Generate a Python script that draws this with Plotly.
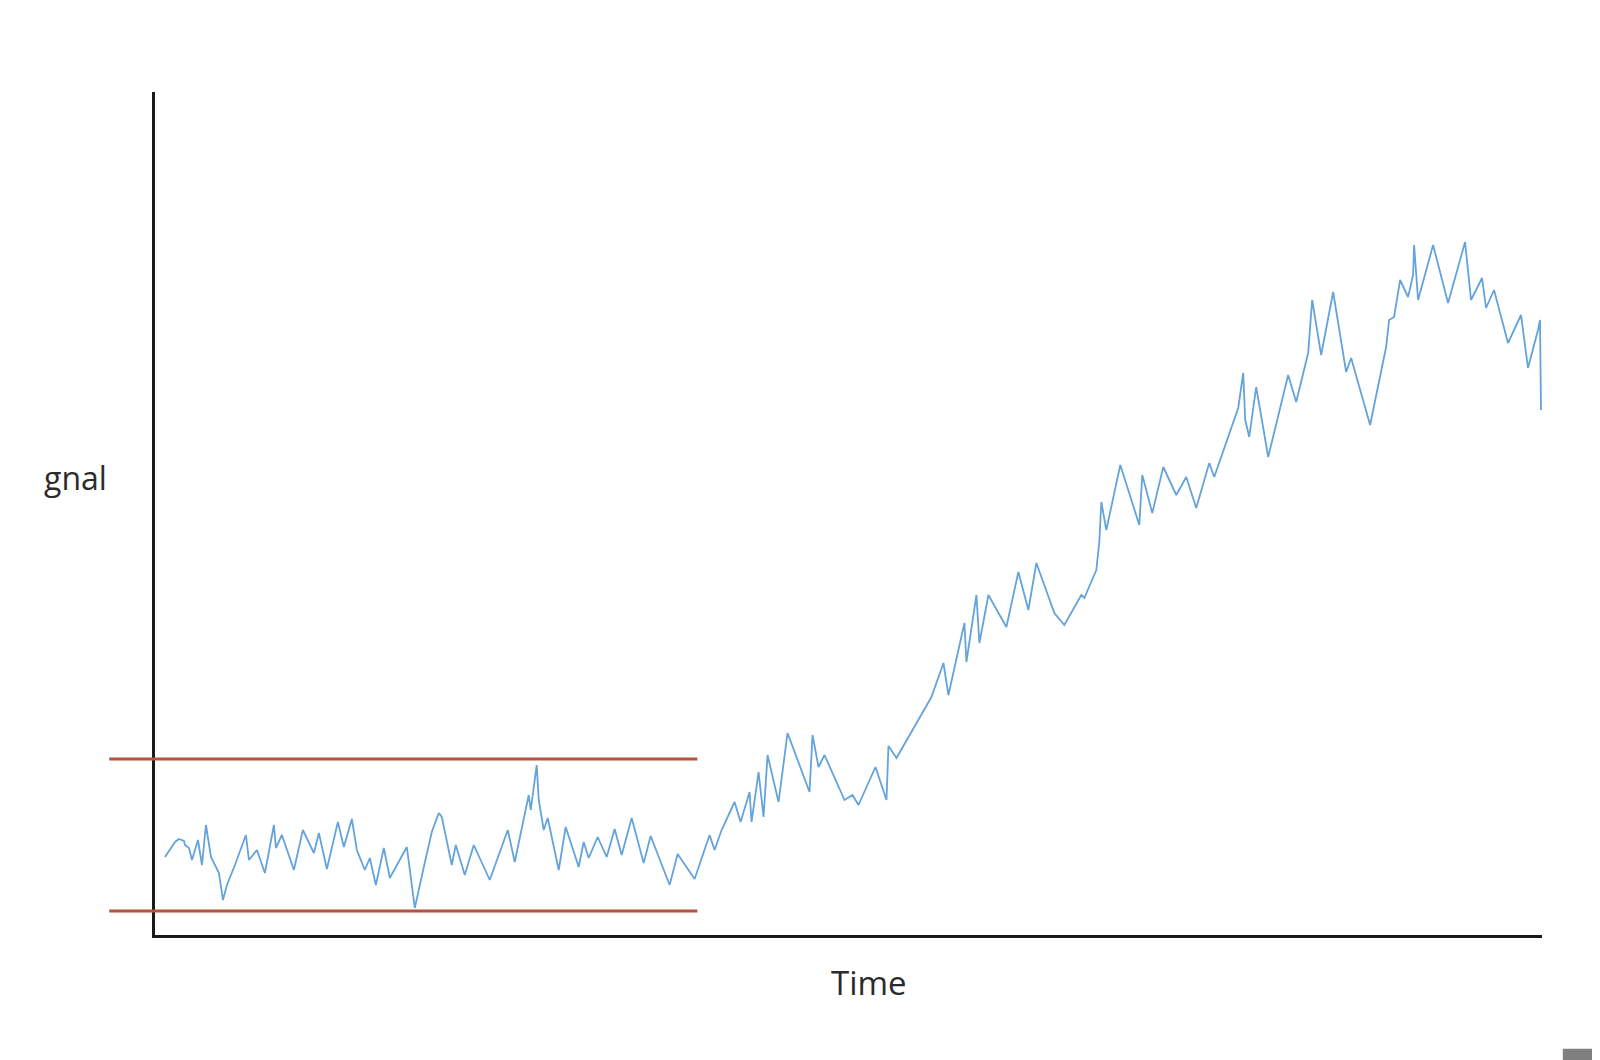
import plotly.graph_objects as go

# signal trace (time in ms, signal in arbitrary units)
time = [10, 20, 24, 29, 30, 34, 37, 43, 47, 51, 56, 60, 64, 68, 72, 80, 87, 91, 94, 102,
        110, 119, 121, 127, 139, 148, 159, 164, 172, 183, 189, 197, 202, 210, 215, 221, 229, 235, 252, 260,
        269, 277, 284, 287, 297, 301, 310, 319, 335, 353, 360, 374, 376, 382, 384, 389, 393, 404, 411, 424,
        429, 434, 443, 452, 460, 467, 477, 489, 496, 515, 523, 540, 555, 560, 567, 580, 586, 595, 597, 604,
        609, 613, 624, 633, 655, 658, 664, 670, 690, 698, 704, 721, 732, 734, 742, 777, 789, 794, 810, 812,
        822, 825, 834, 852, 864, 874, 882, 900, 910, 927, 930, 942, 945, 947, 952, 966, 985, 988, 998, 1009,
        1022, 1032, 1042, 1055, 1060, 1084, 1089, 1091, 1095, 1102, 1114, 1134, 1142, 1154, 1158, 1167, 1179, 1192, 1197, 1216,
        1232, 1235, 1240, 1246, 1254, 1259, 1260, 1264, 1279, 1294, 1311, 1317, 1328, 1332, 1340, 1354, 1367, 1374, 1384, 1386,
        1387]
signal = [7.8, 9.3, 9.6, 9.4, 9.0, 8.7, 7.5, 9.5, 7.0, 11.0, 7.8, 7.0, 6.2, 3.5, 5.0, 7.0, 8.8, 10.0, 7.5, 8.5,
          6.2, 11.0, 8.7, 10.0, 6.5, 10.5, 8.2, 10.2, 6.6, 11.3, 8.8, 11.6, 8.5, 6.5, 7.7, 5.0, 8.7, 5.7, 8.8, 2.7,
          6.8, 10.3, 12.2, 11.8, 7.0, 9.0, 6.0, 9.0, 5.5, 10.5, 7.3, 14.0, 12.5, 17.0, 13.5, 10.5, 11.7, 6.5, 10.8, 6.8,
          9.3, 7.7, 9.8, 7.8, 10.6, 8.0, 11.7, 7.2, 9.9, 5.0, 8.1, 5.6, 10.0, 8.5, 10.5, 13.3, 11.3, 14.3, 11.3, 16.3,
          11.8, 18.0, 13.3, 20.2, 14.3, 20.0, 16.8, 18.0, 13.5, 14.0, 13.0, 16.8, 13.5, 18.9, 17.7, 23.8, 27.2, 24.0, 31.2, 27.3,
          34.0, 29.2, 34.0, 30.8, 36.3, 32.5, 37.2, 32.2, 31.0, 34.0, 33.7, 36.5, 39.3, 43.3, 40.5, 47.0, 41.0, 46.0, 42.2, 46.8,
          44.0, 45.8, 42.7, 47.2, 45.8, 52.7, 56.2, 51.5, 49.8, 54.8, 47.8, 56.0, 53.3, 58.2, 63.5, 58.0, 64.3, 56.3, 57.7, 51.0,
          58.8, 61.5, 61.8, 65.5, 63.8, 66.0, 69.0, 63.5, 69.0, 63.2, 69.3, 63.5, 65.7, 62.7, 64.5, 59.2, 62.0, 56.7, 60.5, 61.5,
          52.5]

# band limits drawn over the first part of the series
upper_limit = 17.6
lower_limit = 2.4

fig = go.Figure()
fig.add_trace(go.Scatter(x=time, y=signal, mode='lines',
                         line=dict(color='#64a3db', width=1.8), hoverinfo='skip'))

for level in (upper_limit, lower_limit):
    fig.add_shape(type='line', xref='paper', yref='y', x0=-0.033, x1=0.391, y0=level, y1=level,
                  line=dict(color='#b9533f', width=3))

# grey corner block from the original screenshot
fig.add_shape(type='rect', xref='paper', yref='paper', x0=1.015, x1=1.06, y0=-0.135, y1=-0.17,
              fillcolor='#7f7f7f', line=dict(width=0))

fig.add_annotation(text='gnal', xref='paper', yref='paper', x=-0.057, y=0.543,
                   xanchor='center', yanchor='middle', showarrow=False,
                   font=dict(family='Open Sans', size=32, color='#2b2b2b'))
fig.add_annotation(text='Time', xref='paper', yref='paper', x=0.515, y=-0.056,
                   xanchor='center', yanchor='middle', showarrow=False,
                   font=dict(family='Open Sans', size=33, color='#2b2b2b'))

fig.update_xaxes(range=[0, 1388], showline=True, linecolor='#1a1a1a', linewidth=3,
                 showgrid=False, zeroline=False, showticklabels=False, ticks='')
fig.update_yaxes(range=[0, 84.3], showline=True, linecolor='#1a1a1a', linewidth=3,
                 showgrid=False, zeroline=False, showticklabels=False, ticks='')
# margins shifted by 8px to offset the page's default body margin
fig.update_layout(width=1600, height=1060, plot_bgcolor='white', paper_bgcolor='white',
                  showlegend=False, margin=dict(l=147, r=66, t=84, b=133))

fig.write_html('out.html')
